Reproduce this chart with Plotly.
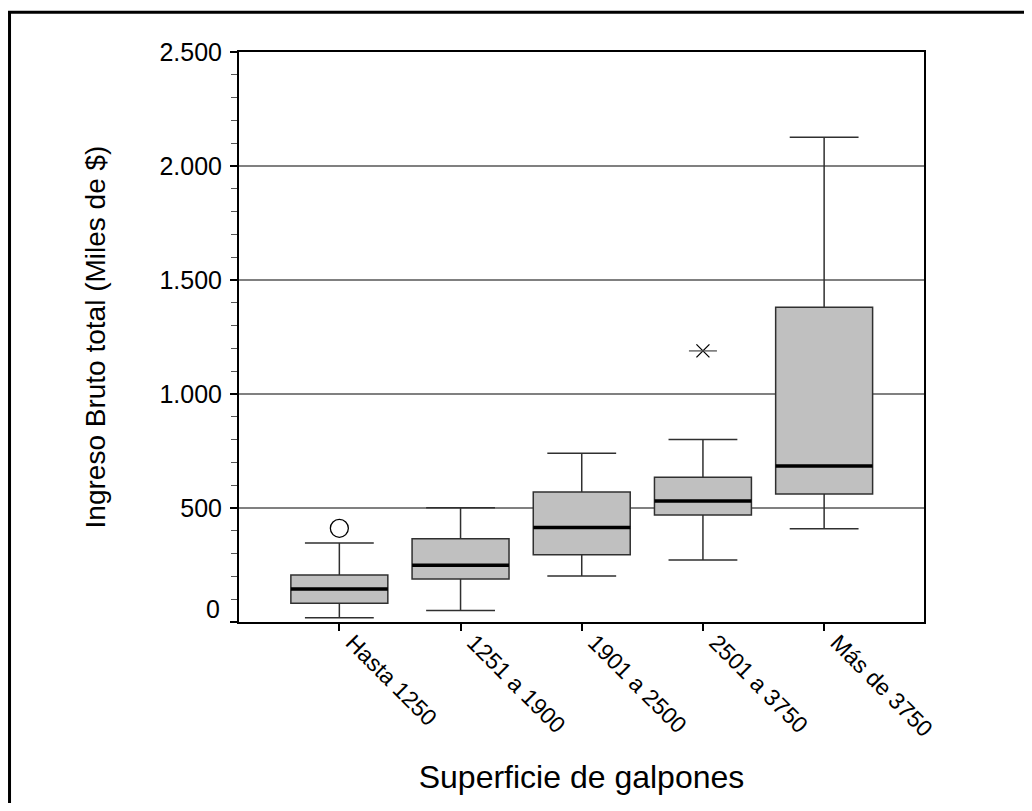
import plotly.graph_objects as go

categories = ["Hasta 1250", "1251 a 1900", "1901 a 2500", "2501 a 3750", "Más de 3750"]
lower_whisker = [19, 50, 202, 272, 409]
q1_vals = [82, 189, 295, 469, 561]
median_vals = [145, 249, 414, 531, 684]
q3_vals = [206, 365, 570, 635, 1381]
upper_whisker = [346, 501, 740, 800, 2126]
outlier_circle_cat = [0]
outlier_circle_val = [411]
outlier_star_cat = [3]
outlier_star_val = [1189]
y_ticks = [0, 500, 1000, 1500, 2000, 2500]
y_tick_text = ["", "500", "1.000", "1.500", "2.000", "2.500"]

FONT = "Arial, Liberation Sans, sans-serif"
BOX_W = 0.8
pos = list(range(len(categories)))

fig = go.Figure()
fig.add_trace(go.Box(
    x=pos, q1=q1_vals, median=median_vals, q3=q3_vals,
    lowerfence=lower_whisker, upperfence=upper_whisker,
    width=BOX_W, whiskerwidth=0.71,
    fillcolor="#C0C0C0", line=dict(color="#303030", width=1.5),
    boxpoints=False, showlegend=False, hoverinfo="skip",
))
# thick median lines
mx, my = [], []
for p, m in zip(pos, median_vals):
    mx += [p - BOX_W / 2, p + BOX_W / 2, None]
    my += [m, m, None]
fig.add_trace(go.Scatter(x=mx, y=my, mode="lines",
                         line=dict(color="black", width=3.5),
                         showlegend=False, hoverinfo="skip"))
# outliers
fig.add_trace(go.Scatter(x=outlier_circle_cat, y=outlier_circle_val, mode="markers",
                         marker=dict(symbol="circle-open", size=18,
                                     line=dict(color="black", width=1.3), color="black"),
                         showlegend=False))
fig.add_trace(go.Scatter(x=outlier_star_cat, y=outlier_star_val, mode="markers",
                         marker=dict(symbol="x-thin-open", size=13,
                                     line=dict(color="black", width=1.3), color="black"),
                         showlegend=False))
fig.add_trace(go.Scatter(x=outlier_star_cat, y=outlier_star_val, mode="markers",
                         marker=dict(symbol="line-ew-open", size=20,
                                     line=dict(color="#555555", width=1.3), color="#555555"),
                         showlegend=False))

fig.update_layout(
    width=1016, height=795,
    margin=dict(l=231, r=100, t=44, b=181),
    paper_bgcolor="white", plot_bgcolor="white",
    font=dict(family=FONT, color="black"),
    showlegend=False,
    xaxis=dict(
        range=[-0.828, 4.824], tickmode="array", tickvals=pos, ticktext=categories,
        tickangle=45, ticks="outside", ticklen=7, tickwidth=2, tickcolor="black",
        ticklabelshift=13, ticklabelstandoff=-11,
        showline=True, linecolor="black", linewidth=2, mirror=True,
        showgrid=False, zeroline=False,
        tickfont=dict(family=FONT, size=23, color="black"),
        title=dict(text="Superficie de galpones", font=dict(family=FONT, size=32, color="black"),
                   standoff=25),
    ),
    yaxis=dict(
        range=[0, 2500], tickmode="array", tickvals=y_ticks, ticktext=y_tick_text,
        ticks="outside", ticklen=7, tickwidth=2, tickcolor="black",
        ticklabelstandoff=3,
        minor=dict(dtick=100, ticks="outside", ticklen=6, tickwidth=1, tickcolor="#555555",
                   showgrid=False),
        showline=True, linecolor="black", linewidth=2, mirror=True,
        showgrid=True, gridcolor="#808080", gridwidth=1.5, zeroline=False,
        tickfont=dict(family=FONT, size=25, color="black"),
        title=dict(text="Ingreso Bruto total (Miles de $)",
                   font=dict(family=FONT, size=28, color="black"), standoff=46),
    ),
    shapes=[dict(type="rect", xref="paper", yref="paper",
                 x0=-0.335, x1=3.0, y0=-3.0, y1=1.0698,
                 line=dict(color="black", width=3), fillcolor="rgba(0,0,0,0)", layer="above")],
    annotations=[dict(text="0", xref="paper", yref="y", x=0, y=0, xanchor="right",
                      yanchor="middle", xshift=-17, yshift=13, showarrow=False,
                      font=dict(family=FONT, size=25, color="black"))],
)

fig.write_html("out.html")
